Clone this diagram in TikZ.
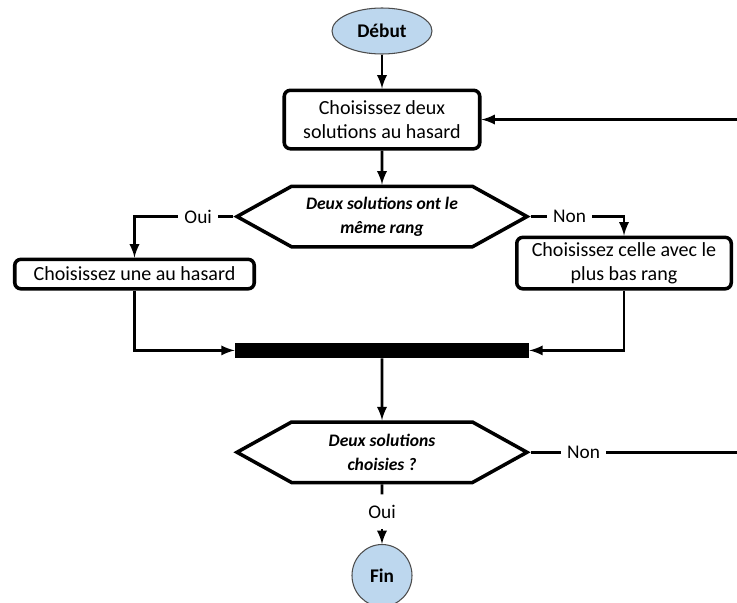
\documentclass[tikz,border=0pt]{standalone}
\usepackage{fontspec}
\setmainfont{Carlito}
\usepackage{tikz}
\usetikzlibrary{shapes.geometric, shapes.symbols, arrows, positioning}

\definecolor{startblue}{HTML}{BDD7EE}

\begin{document}
\begin{tikzpicture}[
    >=latex,
    terminal/.style={ellipse, draw=black!70, line width=0.6pt, fill=startblue, font=\fontsize{11}{13}\selectfont\bfseries, inner sep=0pt},
    process/.style={rectangle, rounded corners=3.5pt, draw=black, line width=2pt, fill=white, align=center, font=\fontsize{11.4}{13.4}\selectfont, inner sep=1pt},
    decision/.style={signal, signal to=west and east, signal pointer angle=58, draw=black, line width=2pt, minimum width=5.8cm, minimum height=1.21cm, align=center, font=\fontsize{10}{13.5}\selectfont\bfseries\itshape, inner sep=0pt},
    syncbar/.style={rectangle, fill=black, minimum width=5.88cm, minimum height=0.3cm, inner sep=0pt},
    answer/.style={font=\fontsize{11}{13}\selectfont, inner xsep=3.5pt, inner ysep=0pt},
    flow/.style={line width=1.6pt}
]
\useasboundingbox (0,0) rectangle (14.74,-12.06);
\coordinate (edge) at (14.74,0);

\node[terminal, minimum width=2cm, minimum height=0.92cm] (debut) at (7.64,-0.62) {Début};
\node[process, minimum width=3.91cm, minimum height=1.17cm, below=0.68cm of debut] (pickTwo) {Choisissez deux\\solutions au hasard};
\node[decision, below=0.68cm of pickTwo] (sameRank) {Deux solutions ont le\\même rang};

\node[answer, left=0.3cm of sameRank] (yesSame) {Oui};
\node[answer, right=0.32cm of sameRank] (noSame) {Non};
\node[process, minimum width=4.79cm, minimum height=0.59cm, below left=0.18cm and 2.52cm of sameRank.south] (pickOne) {Choisissez une au hasard};
\node[process, minimum width=4.29cm, minimum height=1.03cm, below right=-0.26cm and 2.66cm of sameRank.south] (pickLow) {Choisissez celle avec le\\plus bas rang};

\node[syncbar, below=1.88cm of sameRank] (merge) {};
\node[decision, below=1.24cm of merge] (allChosen) {Deux solutions\\choisies ?};
\node[answer, right=0.6cm of allChosen] (noChosen) {Non};
\node[answer, minimum height=0.68cm, below=0.2cm of allChosen] (yesEnd) {Oui};
\node[terminal, minimum width=1.2cm, minimum height=1.24cm, below=0.3cm of yesEnd] (fin) {Fin};

\coordinate (backIn) at (edge |- pickTwo);
\coordinate (backOut) at (edge |- noChosen);

\draw[->, flow] (debut) -- (pickTwo);
\draw[->, flow] (pickTwo) -- (sameRank);
\draw[flow] (sameRank.west) -- (yesSame);
\draw[->, flow] (yesSame) -| (pickOne);
\draw[flow] (sameRank.east) -- (noSame);
\draw[->, flow] (noSame) -| (pickLow);
\draw[->, flow] (pickOne) |- (merge);
\draw[->, flow] (pickLow) |- (merge);
\draw[->, flow] (merge) -- (allChosen);

% the "Non" branch leaves the picture on the right and comes back in at the top
\draw[flow] (allChosen.east) -- (noChosen);
\draw[flow] (noChosen) -- (backOut);
\draw[->, flow] (backIn) -- (pickTwo);

\draw[flow] (allChosen) -- (yesEnd);
\draw[->, flow] (yesEnd) -- (fin);
\end{tikzpicture}
\end{document}
